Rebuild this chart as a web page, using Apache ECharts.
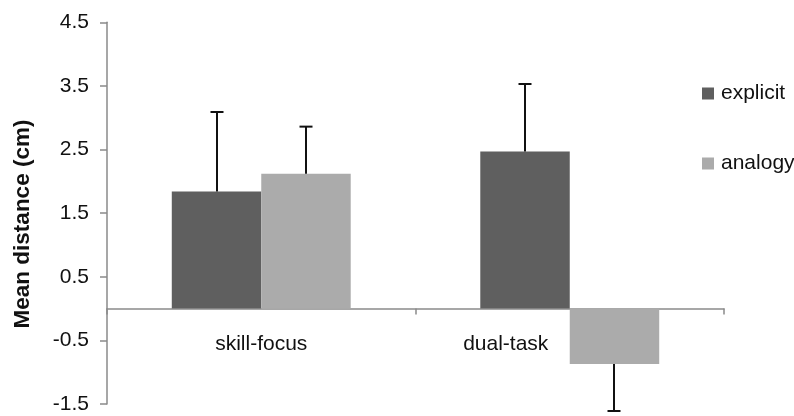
<!DOCTYPE html>
<html>
<head>
<meta charset="utf-8">
<style>
  html, body { margin: 0; padding: 0; background: #ffffff; }
  #chart { width: 794px; height: 416px; }
</style>
<script src="https://cdn.jsdelivr.net/npm/echarts@6/dist/echarts.min.js"></script>
</head>
<body>
<div id="chart"></div>
<script>
// Conditions along the x axis
const categories = ['skill-focus', 'dual-task'];

// Mean distance (cm) per learning group
const explicitMeans = [1.84, 2.47];
const analogyMeans = [2.12, -0.87];

// One-sided error bar lengths (away from zero)
const explicitErrors = [1.25, 1.06];
const analogyErrors = [0.74, 0.74];

// Y axis tick range
const yMin = -1.5;
const yMax = 4.5;
const yStep = 1;

const FONT = '"Liberation Sans", Arial, Helvetica, sans-serif';
const CAT_GAP = 0.42;
const COLOR_EXPLICIT = '#5f5f5f';
const COLOR_ANALOGY = '#ababab';
const TEXT_COLOR = '#111111';
const AXIS_COLOR = '#8a8a8a';

// Category labels hang below the zero line; the second one is nudged left
// so it clears the negative bar.
const LABEL_DROP = 36;
const LABEL_NUDGE = [0, -64];

const chart = echarts.init(document.getElementById('chart'), null, { renderer: 'canvas' });

// Error whisker drawn on the outer side of each bar, with a short cap
function errorSeries(means, errors, side) {
  return {
    type: 'custom',
    silent: true,
    z: 5,
    data: means.map((v, i) => [i, v, errors[i]]),
    renderItem: function (params, api) {
      const i = api.value(0);
      const v = api.value(1);
      const e = api.value(2);
      const band = api.size([1, 0])[0];
      const bw = band * (1 - CAT_GAP) / 2;
      const base = api.coord([i, v]);
      const x = Math.round(base[0] + side * bw / 2);
      const tip = api.coord([i, v >= 0 ? v + e : v - e]);
      const style = { stroke: '#111111', lineWidth: 2 };
      return {
        type: 'group',
        children: [
          { type: 'line', shape: { x1: x, y1: base[1], x2: x, y2: tip[1] }, style: style },
          { type: 'line', shape: { x1: x - 6.5, y1: tip[1], x2: x + 6.5, y2: tip[1] }, style: style }
        ]
      };
    }
  };
}

// Category names placed just under the zero line
const categoryLabelSeries = {
  type: 'custom',
  silent: true,
  z: 6,
  data: categories.map((c, i) => [i, 0]),
  renderItem: function (params, api) {
    const i = api.value(0);
    const p = api.coord([i, 0]);
    return {
      type: 'text',
      x: p[0] + LABEL_NUDGE[i],
      y: p[1] + LABEL_DROP,
      style: {
        text: categories[i],
        fontFamily: FONT,
        fontSize: 21,
        fill: TEXT_COLOR,
        align: 'center',
        verticalAlign: 'middle'
      }
    };
  }
};

chart.setOption({
  animation: false,
  backgroundColor: '#ffffff',
  textStyle: { fontFamily: FONT },
  grid: { left: 107, right: 70, top: 22.3, bottom: 12, containLabel: false, outerBoundsMode: 'none' },
  legend: {
    orient: 'vertical',
    left: 697,
    top: 78,
    itemWidth: 12,
    itemHeight: 12,
    itemGap: 49,
    icon: 'rect',
    data: ['explicit', 'analogy'],
    textStyle: { fontFamily: FONT, fontSize: 21, color: TEXT_COLOR, padding: [0, 0, 0, 2] }
  },
  xAxis: {
    type: 'category',
    data: categories,
    axisLine: { onZero: true, lineStyle: { color: AXIS_COLOR, width: 1.5 } },
    axisTick: { show: true, length: 6, lineStyle: { color: AXIS_COLOR, width: 1.5 } },
    axisLabel: { show: false },
    splitLine: { show: false }
  },
  yAxis: {
    type: 'value',
    min: yMin,
    max: yMax,
    interval: yStep,
    axisLine: { show: true, lineStyle: { color: AXIS_COLOR, width: 1.5 } },
    axisTick: { show: true, length: 7, inside: false, lineStyle: { color: AXIS_COLOR, width: 1.5 } },
    axisLabel: {
      margin: 18,
      fontFamily: FONT,
      fontSize: 21,
      color: TEXT_COLOR,
      formatter: v => v.toFixed(1)
    },
    splitLine: { show: false }
  },
  graphic: [{
    type: 'text',
    x: 23,
    y: 224,
    rotation: Math.PI / 2,
    style: {
      text: 'Mean distance (cm)',
      fontFamily: FONT,
      fontSize: 22.5,
      fontWeight: 'bold',
      fill: TEXT_COLOR,
      align: 'center',
      verticalAlign: 'middle'
    }
  }],
  series: [
    {
      name: 'explicit',
      type: 'bar',
      data: explicitMeans,
      barGap: '0%',
      barCategoryGap: (CAT_GAP * 100) + '%',
      itemStyle: { color: COLOR_EXPLICIT }
    },
    {
      name: 'analogy',
      type: 'bar',
      data: analogyMeans,
      itemStyle: { color: COLOR_ANALOGY }
    },
    errorSeries(explicitMeans, explicitErrors, -1),
    errorSeries(analogyMeans, analogyErrors, 1),
    categoryLabelSeries
  ]
});
</script>
</body>
</html>
